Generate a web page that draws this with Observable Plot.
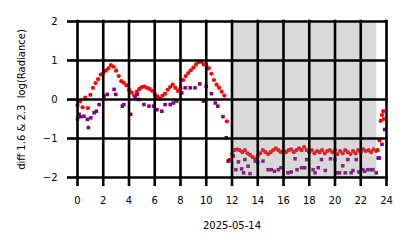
<!DOCTYPE html>
<html>
<head>
<meta charset="utf-8">
<script src="https://cdn.jsdelivr.net/npm/d3@7"></script>
<script src="https://cdn.jsdelivr.net/npm/@observablehq/plot@0.6"></script>
<style>
  html, body { margin: 0; padding: 0; background: #fff; }
  #chart { width: 414px; height: 248px; }
</style>
</head>
<body>
<div id="chart"></div>
<script>
// ---- data ----
const xTicks = [0, 2, 4, 6, 8, 10, 12, 14, 16, 18, 20, 22, 24];
const yTicks = [-2, -1, 0, 1, 2];
const xLabel = "2025-05-14";
const yLabel = "diff 1.6 & 2.3  log(Radiance)";

// shaded period (hours)
const shadeStart = [12.0];
const shadeEnd = [23.25];

// red series: regular samples every 0.2 h starting at 0 h
const redStartHour = 0;
const redStepHour = 0.2;
const redValues = [
  -0.15, -0.05, -0.2, 0.05, -0.22, 0.12, 0.3, 0.42, 0.52, 0.64,
  0.68, 0.74, 0.8, 0.88, 0.84, 0.74, 0.6, 0.47, 0.43, 0.36,
  0.25, 0.18, 0.1, 0.2, 0.27, 0.32, 0.33, 0.3, 0.27, 0.22,
  0.15, 0.08, 0.02, 0.1, 0.15, 0.25, 0.32, 0.38, 0.3, 0.22,
  0.28, 0.5, 0.6, 0.68, 0.75, 0.82, 0.9, 0.96, 0.97, 0.9,
  0.88, 0.8, 0.66, 0.5, 0.38, 0.3, 0.2, 0.1, -0.56, -1.55,
  -1.4, -1.3, -1.28, -1.3, -1.35, -1.3, -1.38, -1.42, -1.48, -1.52,
  -1.45, -1.38, -1.3, -1.35, -1.4, -1.35, -1.3, -1.25, -1.3, -1.35,
  -1.3, -1.35, -1.3, -1.28, -1.35, -1.3, -1.25, -1.3, -1.22, -1.3,
  -1.35, -1.3, -1.38, -1.32, -1.35, -1.3, -1.38, -1.32, -1.3, -1.35,
  -1.3, -1.4, -1.32, -1.38, -1.3, -1.35, -1.4, -1.32, -1.38, -1.3,
  -1.35, -1.28, -1.32, -1.3, -1.35, -1.28, -1.32
];
// red series: last irregular samples
const redTailHours = [23.3, 23.45, 23.55, 23.65, 23.75, 23.8];
const redTailValues = [-1.3, -1.05, -0.55, -0.4, -0.3, -0.5];

// purple series (hour, value)
const purpleHours = [
  0.0, 0.13, 0.25, 0.5, 0.77, 0.85, 1.03, 1.29, 1.47, 1.68,
  2.06, 2.32, 2.84, 2.97, 3.48, 3.6, 4.13, 4.5, 4.64, 4.77,
  5.16, 5.55, 5.9, 6.17, 6.55, 6.8, 7.2, 7.45, 7.7, 8.1,
  8.36, 8.75, 9.13, 9.5, 9.78, 10.0, 10.4, 10.7, 10.9, 11.3,
  11.55, 11.7,
  12.1, 12.3, 12.5, 12.75, 12.9, 13.0, 13.25, 13.4, 13.8, 14.0,
  14.4, 14.8, 15.05, 15.3, 15.6, 15.8, 16.35, 16.6, 16.9, 17.05,
  17.4, 17.65, 17.8, 18.3, 18.45, 18.7, 18.95, 19.25, 19.65, 20.0,
  20.15, 20.35, 20.6, 20.8, 21.0, 21.25, 21.4, 21.65, 21.85, 22.15,
  22.3, 22.55, 22.8, 22.95, 23.2, 23.35, 23.45, 23.65, 23.85
];
const purpleValues = [
  -0.5, -0.38, -0.44, -0.43, -0.51, -0.72, -0.47, -0.34, -0.3, -0.13,
  0.09, 0.13, 0.26, 0.13, -0.17, -0.13, -0.38, 0.04, 0.13, 0.0,
  -0.13, -0.17, -0.17, -0.26, -0.3, -0.13, -0.13, -0.09, -0.04, 0.17,
  0.3, 0.3, 0.3, 0.4, -0.04, 0.34, 0.15, -0.09, -0.17, -0.44,
  -0.98, -1.58,
  -1.45, -1.8, -1.6, -1.78, -1.88, -1.54, -1.71, -1.9, -1.58, -1.62,
  -1.58, -1.8, -1.8, -1.84, -1.8, -1.75, -1.88, -1.86, -1.52, -1.8,
  -1.75, -1.75, -1.54, -1.8, -1.88, -1.75, -1.54, -1.82, -1.52, -1.54,
  -1.88, -1.88, -1.7, -1.88, -1.54, -1.88, -1.82, -1.54, -1.86, -1.8,
  -1.84, -1.8, -1.8, -1.8, -1.88, -1.5, -1.5, -1.15, -0.77
];

// ---- tables built from the arrays ----
const red = redValues.map((v, i) => ({hour: redStartHour + i * redStepHour, value: v}))
  .concat(redTailHours.map((h, i) => ({hour: h, value: redTailValues[i]})));
const purple = purpleHours.map((h, i) => ({hour: h, value: purpleValues[i]}));
const shade = shadeStart.map((s, i) => ({start: s, end: shadeEnd[i]}));

const chart = Plot.plot({
  width: 414,
  height: 248,
  marginLeft: 77,
  marginRight: 28,
  marginTop: 21,
  marginBottom: 71,
  style: {fontFamily: "DejaVu Sans", fontSize: "10px", color: "#000", background: "#fff"},
  x: {domain: [0, 24]},
  y: {domain: [-2, 2]},
  marks: [
    Plot.dot(red, {x: "hour", y: "value", r: 2.1, fill: "#ff0000", stroke: null}),
    Plot.dot(purple, {x: "hour", y: "value", symbol: "square", r: 2, fill: "#800080", stroke: null}),
    Plot.rectX(shade, {x1: "start", x2: "end", y1: -2, y2: 2, fill: "#808080", fillOpacity: 0.3}),
    Plot.ruleX(xTicks, {stroke: "#000", strokeWidth: 2.6, strokeLinecap: "square"}),
    Plot.ruleY(yTicks, {stroke: "#000", strokeWidth: 2.6, strokeLinecap: "square"}),
    Plot.axisX({ticks: xTicks, tickFormat: "d", tickSize: 9, tickPadding: 10, stroke: "#000",
      label: xLabel, labelAnchor: "center", labelArrow: "none", labelOffset: 51, fontSize: 10}),
    Plot.axisY({ticks: yTicks, tickFormat: "d", tickSize: 10, tickPadding: 10, stroke: "#000",
      label: yLabel, labelAnchor: "center", labelArrow: "none", labelOffset: 60, fontSize: 10})
  ]
});
// make the axis tick marks as heavy as the grid
d3.select(chart).selectAll("g[aria-label$='tick']").attr("stroke-width", 2.6).attr("stroke", "#000");
document.getElementById("chart").appendChild(chart);
</script>
</body>
</html>
